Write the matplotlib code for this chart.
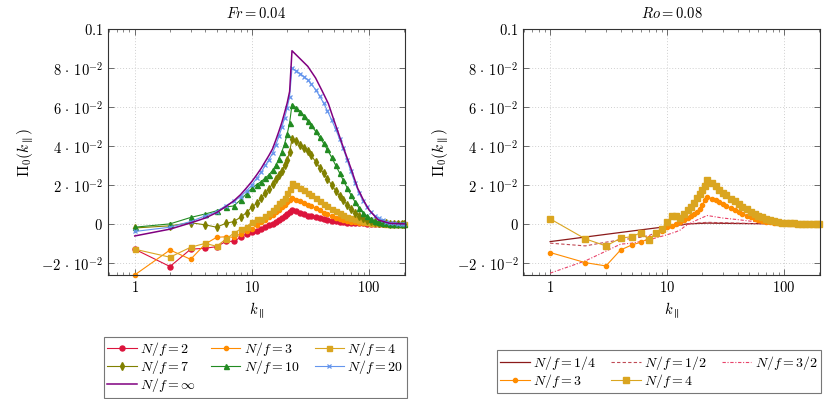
import numpy as np
import matplotlib
matplotlib.use("Agg")
import matplotlib.pyplot as plt
from matplotlib.ticker import NullFormatter

plt.rcParams['mathtext.fontset'] = 'cm'
plt.rcParams['font.family'] = 'serif'
plt.rcParams['font.serif'] = ['DejaVu Serif']
plt.rcParams['font.size'] = 10

# wavenumber grid (dense part for marked curves)
k_low = list(range(1, 23))
k_tail = [24, 26, 28, 30, 32, 35, 38, 41, 44, 48, 52, 56, 60, 65, 70, 76, 82,
          89, 96, 104, 112, 121, 131, 141, 152, 164, 177, 191, 200]
k_dense = k_low + k_tail

# ---- left panel, Fr = 0.04 ----
nf2 = [-0.0130, -0.0219, -0.0130, -0.0125, -0.0117, -0.0090, -0.0090, -0.0069, -0.0051, -0.0043,
       -0.0034, -0.0024, -0.0017, -0.0008, 0.0000, 0.0010, 0.0020, 0.0030, 0.0040, 0.0050, 0.0060, 0.0070,
       0.0064, 0.0057, 0.0050, 0.0043, 0.0039, 0.0034, 0.0029, 0.0025, 0.0021, 0.0017, 0.0014, 0.0011,
       0.0009, 0.0007, 0.0005, 0.0004, 0.0003, 0.0002, 0.0001, 0, 0, 0, 0, 0, 0, 0, 0, 0, 0]
nf3 = [-0.0262, -0.0134, -0.0182, -0.0103, -0.0069, -0.0066, -0.0069, -0.0051, -0.0034, -0.0024,
       -0.0007, 0.0010, 0.0021, 0.0035, 0.0048, 0.0060, 0.0072, 0.0085, 0.0098, 0.0110, 0.0122, 0.0132,
       0.0124, 0.0116, 0.0107, 0.0098, 0.0090, 0.0080, 0.0070, 0.0058, 0.0049, 0.0040, 0.0031, 0.0025,
       0.0020, 0.0015, 0.0012, 0.0009, 0.0007, 0.0005, 0.0003, 0.0002, 0.0001, 0, 0, 0, 0, 0, 0, 0, 0]
nf4 = [-0.0130, -0.0171, -0.0120, -0.0100, -0.0115, -0.0078, -0.0048, -0.0027, -0.0014, 0.0008,
       0.0024, 0.0026, 0.0038, 0.0055, 0.0072, 0.0089, 0.0106, 0.0120, 0.0135, 0.0158, 0.0180, 0.0212,
       0.0200, 0.0186, 0.0172, 0.0158, 0.0148, 0.0132, 0.0116, 0.0101, 0.0091, 0.0078, 0.0066, 0.0055,
       0.0046, 0.0037, 0.0029, 0.0023, 0.0018, 0.0013, 0.0010, 0.0007, 0.0005, 0.0003, 0.0002, 0.0001,
       0, 0, 0, 0, 0]
nf7 = [-0.0021, -0.0010, 0.0006, -0.0005, -0.0017, 0.0003, 0.0012, 0.0034, 0.0058, 0.0086,
       0.0106, 0.0132, 0.0158, 0.0180, 0.0205, 0.0228, 0.0250, 0.0272, 0.0300, 0.0330, 0.0370, 0.0435,
       0.0425, 0.0407, 0.0390, 0.0372, 0.0352, 0.0320, 0.0289, 0.0259, 0.0233, 0.0200, 0.0170, 0.0145,
       0.0123, 0.0099, 0.0077, 0.0058, 0.0042, 0.0030, 0.0020, 0.0013, 0.0008, 0.0005, 0.0003, 0.0002,
       0.0001, 0, 0, 0, 0]
nf10 = [-0.0017, 0.0000, 0.0033, 0.0051, 0.0067, 0.0087, 0.0092, 0.0123, 0.0155, 0.0183,
        0.0202, 0.0217, 0.0236, 0.0252, 0.0275, 0.0300, 0.0335, 0.0370, 0.0410, 0.0460, 0.0520, 0.0612,
        0.0595, 0.0575, 0.0552, 0.0526, 0.0507, 0.0475, 0.0444, 0.0413, 0.0382, 0.0341, 0.0300, 0.0262,
        0.0226, 0.0186, 0.0149, 0.0112, 0.0082, 0.0057, 0.0039, 0.0024, 0.0015, 0.0009, 0.0005, 0.0003,
        0.0001, 0, 0, 0, 0]
nf20 = [-0.0039, -0.0017, 0.0012, 0.0041, 0.0063, 0.0094, 0.0115, 0.0140, 0.0170, 0.0200,
        0.0235, 0.0265, 0.0300, 0.0330, 0.0363, 0.0405, 0.0449, 0.0495, 0.0543, 0.0595, 0.0654, 0.0800,
        0.0785, 0.0770, 0.0755, 0.0740, 0.0720, 0.0689, 0.0655, 0.0620, 0.0582, 0.0533, 0.0485, 0.0437,
        0.0389, 0.0329, 0.0269, 0.0210, 0.0160, 0.0118, 0.0085, 0.0060, 0.0042, 0.0029, 0.0018, 0.0010,
        0.0005, 0.0002, 0.0001, 0, 0]
k_inf = list(range(1, 23)) + [30, 35, 40, 45, 50, 60, 70, 80, 90, 100, 120, 150, 200]
nf_inf = [-0.0062, -0.0027, 0.0005, 0.0030, 0.0058, 0.0089, 0.0118, 0.0150, 0.0185, 0.0218,
          0.0252, 0.0285, 0.0320, 0.0352, 0.0385, 0.0430, 0.0475, 0.0520, 0.0570, 0.0620, 0.0680, 0.0889,
          0.0809, 0.0749, 0.0680, 0.0617, 0.0535, 0.0397, 0.0286, 0.0183, 0.0120, 0.0072, 0.0020, 0.0003, 0.0]

# ---- right panel, Ro = 0.08 ----
k_q = [1, 4, 8, 15, 22, 40, 100, 200]
nf_q = [-0.0091, -0.0044, -0.0021, 0.0000, 0.0004, 0.0002, 0.0, 0.0]
k_h = [1, 2, 3, 4, 5, 6, 7, 8, 9, 10, 12, 14, 16, 18, 22, 30, 50, 100, 200]
nf_h = [-0.0099, -0.0113, -0.0094, -0.0082, -0.0075, -0.0068, -0.0060, -0.0045, -0.0035, -0.0025,
        -0.0012, -0.0004, 0.0000, 0.0004, 0.0008, 0.0006, 0.0002, 0.0, 0.0]
k_32 = [1, 2, 3, 4, 5, 6, 7, 8, 10, 12, 13, 14, 16, 18, 20, 22, 30, 40, 50, 60, 80, 100, 200]
nf_32 = [-0.0253, -0.0190, -0.0140, -0.0104, -0.0099, -0.0090, -0.0082, -0.0072, -0.0056, -0.0040,
         -0.0031, -0.0015, 0.0005, 0.0020, 0.0032, 0.0043, 0.0030, 0.0022, 0.0015, 0.0010, 0.0005, 0.0002, 0.0]
ro3 = [-0.0147, -0.0199, -0.0216, -0.0134, -0.0108, -0.0094, -0.0074, -0.0053, -0.0036, -0.0017,
       -0.0009, -0.0002, 0.0009, 0.0019, 0.0029, 0.0041, 0.0053, 0.0063, 0.0077, 0.0098, 0.0123, 0.0140,
       0.0130, 0.0121, 0.0111, 0.0101, 0.0093, 0.0082, 0.0071, 0.0061, 0.0053, 0.0043, 0.0034, 0.0027,
       0.0021, 0.0016, 0.0012, 0.0009, 0.0006, 0.0004, 0.0003, 0.0002, 0.0001, 0, 0, 0, 0, 0, 0, 0, 0]
ro4 = [0.0026, -0.0077, -0.0113, -0.0074, -0.0065, -0.0045, -0.0082, -0.0048, -0.0026, 0.0009,
       0.0038, 0.0038, 0.0029, 0.0051, 0.0072, 0.0089, 0.0106, 0.0132, 0.0152, 0.0175, 0.0192, 0.0225,
       0.0210, 0.0193, 0.0175, 0.0158, 0.0146, 0.0130, 0.0115, 0.0101, 0.0089, 0.0075, 0.0061, 0.0051,
       0.0043, 0.0034, 0.0026, 0.0019, 0.0014, 0.0010, 0.0007, 0.0004, 0.0003, 0.0002, 0.0001,
       0, 0, 0, 0, 0, 0]

ytick_vals = [-0.02, 0, 0.02, 0.04, 0.06, 0.08, 0.1]
ytick_labels = [r'$-2\,\cdot\,10^{-2}$', r'$0$', r'$2\,\cdot\,10^{-2}$', r'$4\,\cdot\,10^{-2}$',
                r'$6\,\cdot\,10^{-2}$', r'$8\,\cdot\,10^{-2}$', r'$0.1$']

fig = plt.figure(figsize=(8.3, 3.99), dpi=100)
ax1 = fig.add_axes([0.130, 0.311, 0.358, 0.616])
ax2 = fig.add_axes([0.6305, 0.311, 0.3575, 0.616])

kw = dict(lw=0.8, clip_on=False)
h2, = ax1.plot(k_dense, nf2, color='#dc143c', marker='o', ms=3.6, label=r'$N/f=2$', **kw)
h3, = ax1.plot(k_dense, nf3, color='#ff8c00', marker='o', ms=3.0, label=r'$N/f=3$', **kw)
h4, = ax1.plot(k_dense, nf4, color='#daa520', marker='s', ms=3.6, label=r'$N/f=4$', **kw)
h7, = ax1.plot(k_dense, nf7, color='#808000', marker='d', ms=3.6, label=r'$N/f=7$', **kw)
h10, = ax1.plot(k_dense, nf10, color='#228b22', marker='^', ms=3.6, label=r'$N/f=10$', **kw)
h20, = ax1.plot(k_dense, nf20, color='#6495ed', marker='x', ms=3.4, mew=0.9, label=r'$N/f=20$', **kw)
hinf, = ax1.plot(k_inf, nf_inf, color='#800080', lw=1.1, label=r'$N/f=\infty$')

g1, = ax2.plot(k_q, nf_q, color='#8b1a1a', lw=0.9, label=r'$N/f=1/4$')
g2, = ax2.plot(k_h, nf_h, color='#c04a55', lw=0.8, ls=(0, (3, 2)), label=r'$N/f=1/2$')
g3, = ax2.plot(k_32, nf_32, color='#e8436a', lw=0.8, ls=(0, (3, 1.5, 1, 1.5)), label=r'$N/f=3/2$')
g4, = ax2.plot(k_dense, ro3, color='#ff8c00', marker='o', ms=3.0, label=r'$N/f=3$', **kw)
g5, = ax2.plot(k_dense, ro4, color='#daa520', marker='s', ms=3.8, label=r'$N/f=4$', **kw)

for ax, title in [(ax1, r'$Fr = 0.04$'), (ax2, r'$Ro = 0.08$')]:
    ax.set_xscale('log')
    ax.set_xlim(0.59, 203)
    ax.set_ylim(-0.0262, 0.1)
    ax.set_xticks([1, 10, 100])
    ax.set_xticklabels([r'$1$', r'$10$', r'$100$'])
    ax.xaxis.set_minor_formatter(NullFormatter())
    ax.set_yticks(ytick_vals)
    ax.set_yticklabels(ytick_labels)
    ax.grid(True, which='major', ls=(0, (1, 2)), color='#cfcfcf', lw=0.7)
    ax.tick_params(which='both', direction='in', top=True, right=True, color='#555555',
                   labelsize=10.5)
    ax.tick_params(which='major', length=4, width=0.6)
    ax.tick_params(which='minor', length=2.2, width=0.5)
    for s in ax.spines.values():
        s.set_color('#333333')
        s.set_linewidth(0.8)
    ax.set_title(title, pad=8, fontsize=10.5)
    ax.set_xlabel(r'$k_\parallel$', fontsize=10.5)
    ax.set_ylabel(r'$\Pi_0(k_\parallel)$', fontsize=11)

leg_kw = dict(ncol=3, frameon=True, fancybox=False, edgecolor='#777777', framealpha=1,
              handlelength=2.1, handletextpad=0.25, columnspacing=1.1, labelspacing=0.0,
              borderpad=0.25, borderaxespad=0, fontsize=10)
l1 = fig.legend([h2, h7, hinf, h3, h10, h4, h20],
                [h.get_label() for h in [h2, h7, hinf, h3, h10, h4, h20]],
                loc='lower left', bbox_to_anchor=(0.1253, 0.003), **leg_kw)
l2 = fig.legend([g1, g4, g2, g5, g3],
                [h.get_label() for h in [g1, g4, g2, g5, g3]],
                loc='lower left', bbox_to_anchor=(0.5988, 0.015), **leg_kw)
for l in (l1, l2):
    l.get_frame().set_linewidth(0.8)

fig.savefig('out.png', dpi=100)
